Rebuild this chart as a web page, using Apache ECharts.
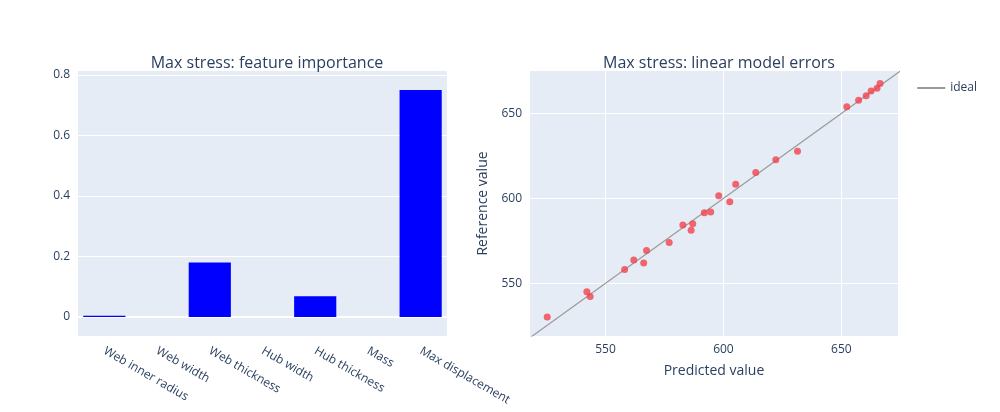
<html>
<head>
<meta charset="utf-8" />
<script src="https://cdn.jsdelivr.net/npm/echarts@6/dist/echarts.min.js"></script>
<style>
  body { margin: 0; background: #fff; }
  #chart { width: 1000px; height: 412px; }
</style>
</head>
<body>
<div id="chart"></div>
<script type="text/javascript">
var features = ['Web inner radius', 'Web width', 'Web thickness', 'Hub width', 'Hub thickness', 'Mass', 'Max displacement'];
var importance = [0.004, 0, 0.18, 0, 0.068, 0, 0.75];
var predicted = [525.3, 542.1, 543.5, 558.1, 562, 566.2, 567.4, 577, 582.8, 586.3, 587, 591.9, 594.6, 598, 602.7, 605.2, 613.7, 622.2, 631.4, 652.3, 657.3, 660.5, 662.6, 665.1, 666.4];
var reference = [530.2, 545, 542.2, 558.2, 563.7, 562, 569.4, 574.1, 584.3, 581.2, 585.1, 591.6, 592, 601.6, 598, 608.4, 615.3, 622.7, 627.8, 653.9, 657.8, 660.4, 663.3, 664.9, 667.6];
var barTicks = [0, 0.2, 0.4, 0.6, 0.8];
var scatterTicks = [550, 600, 650];
var idealLine = [[518, 518], [675, 675]];

var txt = '#2a3f5f';
var font = '"Open Sans", "DejaVu Sans", sans-serif';
var pts = predicted.map(function (x, i) { return [x, reference[i]]; });

var chart = echarts.init(document.getElementById('chart'));
chart.setOption({
  animation: false,
  textStyle: { fontFamily: font },
  title: [
    { text: 'Max stress: feature importance', left: 262, top: 50, textAlign: 'center', textStyle: { fontSize: 16, fontWeight: 'normal', color: txt, fontFamily: font } },
    { text: 'Max stress: linear model errors', left: 714, top: 50, textAlign: 'center', textStyle: { fontSize: 16, fontWeight: 'normal', color: txt, fontFamily: font } }
  ],
  legend: {
    data: ['ideal'], right: 18, top: 77, itemWidth: 28, itemHeight: 2, icon: 'rect',
    textStyle: { color: txt, fontSize: 12, fontFamily: font }
  },
  grid: [
    { left: 78, top: 71, width: 369, height: 265, backgroundColor: '#e5ecf6', show: true, borderWidth: 0 },
    { left: 530, top: 71, width: 368, height: 265, backgroundColor: '#e5ecf6', show: true, borderWidth: 0 }
  ],
  xAxis: [
    { gridIndex: 0, type: 'category', data: features,
      axisLine: { show: false }, axisTick: { show: false },
      axisLabel: { rotate: -30, color: txt, fontSize: 12, interval: 0, margin: 14, align: 'left' } },
    { gridIndex: 1, type: 'value', min: 518, max: 674,
      name: 'Predicted value', nameLocation: 'middle', nameGap: 28,
      nameTextStyle: { color: txt, fontSize: 14 },
      axisLine: { show: false }, axisTick: { show: false, customValues: scatterTicks },
      axisLabel: { color: txt, fontSize: 12, customValues: scatterTicks },
      splitLine: { lineStyle: { color: '#fff', width: 1 } } }
  ],
  yAxis: [
    { gridIndex: 0, type: 'value', min: -0.063, max: 0.813,
      axisLine: { show: false }, axisTick: { show: false, customValues: barTicks },
      axisLabel: { color: txt, fontSize: 12, customValues: barTicks, formatter: function (v) { return v === 0 ? '0' : v.toFixed(1); } },
      splitLine: { lineStyle: { color: '#fff', width: 1 } } },
    { gridIndex: 1, type: 'value', min: 519, max: 675,
      name: 'Reference value', nameLocation: 'middle', nameGap: 40,
      nameTextStyle: { color: txt, fontSize: 14 },
      axisLine: { show: false }, axisTick: { show: false, customValues: scatterTicks },
      axisLabel: { color: txt, fontSize: 12, customValues: scatterTicks },
      splitLine: { lineStyle: { color: '#fff', width: 1 } } }
  ],
  series: [
    { type: 'bar', xAxisIndex: 0, yAxisIndex: 0, data: importance, barWidth: '80%',
      itemStyle: { color: '#0000ff' },
      markLine: { silent: true, symbol: 'none', label: { show: false }, lineStyle: { color: '#fff', width: 2, type: 'solid' }, data: [{ yAxis: 0 }], z: 1 } },
    { type: 'scatter', xAxisIndex: 1, yAxisIndex: 1, data: pts, symbolSize: 7,
      itemStyle: { color: '#f0434f', opacity: 0.8 }, z: 3 },
    { name: 'ideal', type: 'line', xAxisIndex: 1, yAxisIndex: 1, data: idealLine, symbol: 'none',
      lineStyle: { color: '#999999', width: 1.2 }, itemStyle: { color: '#999999' }, z: 2 }
  ]
});
</script>
</body>
</html>
